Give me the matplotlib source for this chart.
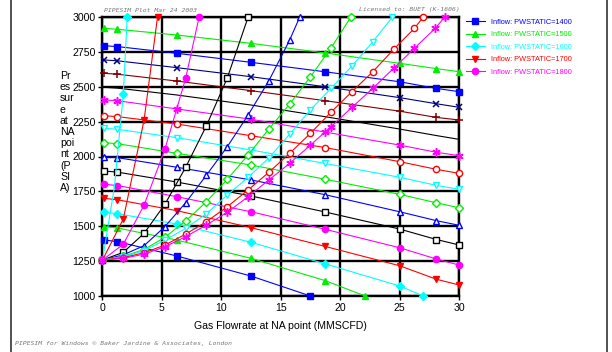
import numpy as np
import matplotlib
matplotlib.use("Agg")
import matplotlib.pyplot as plt

plt.rcParams['font.family'] = ['Liberation Sans', 'DejaVu Sans']

# inflow curves (falling), one per static pressure
inflow_labels = ["Inflow: PWSTATIC=1400", "Inflow: PWSTATIC=1500", "Inflow: PWSTATIC=1600",
                 "Inflow: PWSTATIC=1700", "Inflow: PWSTATIC=1800"]
q_in = [0.15, 1.25, 6.25, 12.5, 18.75, 25, 28.1, 30]
inflow = [
    ([0.15, 1.25, 6.25, 12.5, 17.5], [1401, 1390, 1287, 1143, 1000]),
    ([0.15, 1.25, 6.25, 12.5, 18.75, 22.1], [1497, 1488, 1401, 1270, 1110, 1000]),
    ([0.15, 1.25, 6.25, 12.5, 18.75, 25, 27.0], [1600, 1590, 1516, 1385, 1230, 1072, 1000]),
    (q_in, [1700, 1690, 1612, 1490, 1355, 1217, 1120, 1079]),
    (q_in, [1801, 1792, 1712, 1604, 1478, 1346, 1265, 1222]),
    (q_in, [1896, 1888, 1817, 1717, 1602, 1480, 1405, 1366]),
    (q_in, [1999, 1992, 1923, 1832, 1726, 1604, 1540, 1507]),
    (q_in, [2099, 2092, 2023, 1939, 1837, 1729, 1668, 1633]),
    (q_in, [2202, 2195, 2135, 2047, 1950, 1851, 1793, 1765]),
    (q_in, [2292, 2286, 2233, 2149, 2064, 1963, 1908, 1879]),
    (q_in, [2405, 2400, 2341, 2267, 2175, 2082, 2030, 2006]),
    (q_in, [2496, 2490, 2441, 2369, 2285, 2197, 2150, 2123]),
    (q_in, [2596, 2590, 2541, 2472, 2400, 2325, 2280, 2262]),
    (q_in, [2692, 2686, 2637, 2572, 2500, 2422, 2378, 2353]),
    (q_in, [2794, 2788, 2740, 2675, 2607, 2536, 2488, 2465]),
    (q_in, [2919, 2912, 2871, 2811, 2742, 2668, 2630, 2608]),
]

# outflow curves (rising), all from the same point
outflow = [
    ([0, 1.0, 1.75, 2.08], [1258, 1780, 2446, 3000]),
    ([0, 1.75, 3.5, 4.63], [1258, 1552, 2262, 3000]),
    ([0, 1.75, 3.5, 5.25, 7.0, 8.13], [1258, 1371, 1652, 2052, 2561, 3000]),
    ([0, 1.75, 3.5, 5.25, 7.0, 8.75, 10.5, 12.25],
     [1258, 1313, 1449, 1657, 1923, 2221, 2563, 2998]),
    ([0, 1.75, 3.5, 5.25, 7.0, 8.75, 10.5, 12.25, 14.0, 15.75, 16.6],
     [1258, 1295, 1361, 1497, 1669, 1867, 2070, 2297, 2543, 2835, 3000]),
    ([0, 1.75, 3.5, 5.25, 7.0, 8.75, 10.5, 12.25, 14.0, 15.75, 17.5, 19.25, 20.9],
     [1258, 1285, 1333, 1421, 1538, 1676, 1836, 2011, 2197, 2376, 2572, 2780, 3000]),
    ([0, 1.75, 3.5, 5.25, 7.0, 8.75, 10.5, 12.25, 14.0, 15.75, 17.5, 19.25, 21.0, 22.75, 24.4],
     [1258, 1280, 1325, 1400, 1485, 1590, 1724, 1850, 1990, 2160, 2335, 2490, 2650, 2823, 3000]),
    ([0, 1.75, 3.5, 5.25, 7.0, 8.75, 10.5, 12.25, 14.0, 15.75, 17.5, 19.25, 21.0, 22.75, 24.5, 26.25, 27.0],
     [1258, 1275, 1310, 1365, 1444, 1533, 1640, 1760, 1887, 2023, 2166, 2320, 2465, 2608, 2768, 2919, 3000]),
    ([0, 1.75, 3.5, 5.25, 7.0, 8.75, 10.5, 12.25, 14.0, 15.75, 17.5, 19.25, 21.0, 22.75, 24.5, 26.25, 28.0, 28.8],
     [1258, 1270, 1300, 1353, 1425, 1509, 1600, 1712, 1832, 1951, 2082, 2215, 2353, 2489, 2632, 2776, 2919, 3000]),
]

# colour / marker cycle: (colour, marker, filled)
STAR = (6, 2, 0)
styles = [
    ('#0000ff', 's', True), ('#00ee00', '^', True), ('#00ffff', 'D', True),
    ('#ff0000', 'v', True), ('#ff00ff', 'o', True), ('#000000', 's', False),
    ('#0000ff', '^', False), ('#00ee00', 'D', False), ('#00ffff', 'v', False),
    ('#ff0000', 'o', False), ('#ff00ff', STAR, True), ('#000000', None, True),
    ('#800000', '+', True), ('#000080', 'x', True), ('#0000ff', 's', True),
    ('#00ee00', '^', True),
]
msize = {'s': 4.5, '^': 4, 'D': 4, 'v': 4, 'o': 4.5, '+': 6, 'x': 5, STAR: 6}


def draw(ax, xs, ys, style, markevery=None, label=None):
    c, m, filled = style
    kw = dict(color=c, lw=0.8, clip_on=False, zorder=3, label=label)
    if m is not None:
        kw.update(marker=m, ms=msize[m], mec=c, mew=1.0 if m not in ('+', 'x', STAR) else 1.1,
                  mfc=c if filled else 'white')
        if markevery is not None:
            kw['markevery'] = markevery
    return ax.plot(xs, ys, **kw)[0]


fig = plt.figure(figsize=(6.12, 3.52), dpi=100)
ax = fig.add_axes([102.5 / 612, 56 / 352, 356.5 / 612, 279 / 352])

handles = []
for i, (xs, ys) in enumerate(inflow):
    lab = inflow_labels[i] if i < len(inflow_labels) else None
    h = draw(ax, xs, ys, styles[i], label=lab)
    if lab:
        handles.append(h)

for i, (xs, ys) in enumerate(outflow):
    me = [0, 2, 3] if i == 0 else None
    draw(ax, xs, ys, styles[i + 2], markevery=me)

ax.set_xlim(0, 30)
ax.set_ylim(1000, 3000)
ax.set_xticks(np.arange(0, 31, 5))
ax.set_yticks(np.arange(1000, 3001, 250))
ax.grid(True, color='black', lw=1.7, zorder=1)
ax.set_axisbelow(True)
for s in ax.spines.values():
    s.set_linewidth(1.7)
ax.tick_params(direction='out', length=3, width=1, labelsize=7.6, pad=2)

ax.set_xlabel('Gas Flowrate at NA point (MMSCFD)', fontsize=7.6, labelpad=6)
fig.text(60 / 612, 1 - 71 / 352, "Pr\nes\nsur\ne\nat\nNA\npoi\nnt\n(P\nSI\nA)",
         fontsize=7.6, ha='left', va='top', linespacing=1.15)

leg = fig.legend(handles=handles, loc='upper left', bbox_to_anchor=(462 / 612, 1 - 15 / 352),
                 frameon=False, fontsize=5.3, handlelength=2.6, labelspacing=0.72,
                 handletextpad=0.8, borderpad=0)
for t, h in zip(leg.get_texts(), handles):
    t.set_color(h.get_color())

mono = dict(family='DejaVu Sans Mono', style='italic', color='#777777', fontsize=4.6)
fig.text(104 / 612, 1 - 10 / 352, 'PIPESIM Plot Mar 24 2003', ha='left', va='center', **mono)
fig.text(460 / 612, 1 - 10 / 352, 'Licensed to: BUET (K-1606)', ha='right', va='center', **mono)
fig.text(15 / 612, 1 - 343 / 352, 'PIPESIM for Windows \u00a9 Baker Jardine & Associates, London',
         ha='left', va='center', **mono)

# page frame
fig.add_artist(plt.Line2D([11 / 612, 11 / 612], [0, 1], color='#333333', lw=1.2))
fig.add_artist(plt.Line2D([607 / 612, 607 / 612], [0, 1], color='#333333', lw=1.2))

fig.savefig('out.png', dpi=100)
